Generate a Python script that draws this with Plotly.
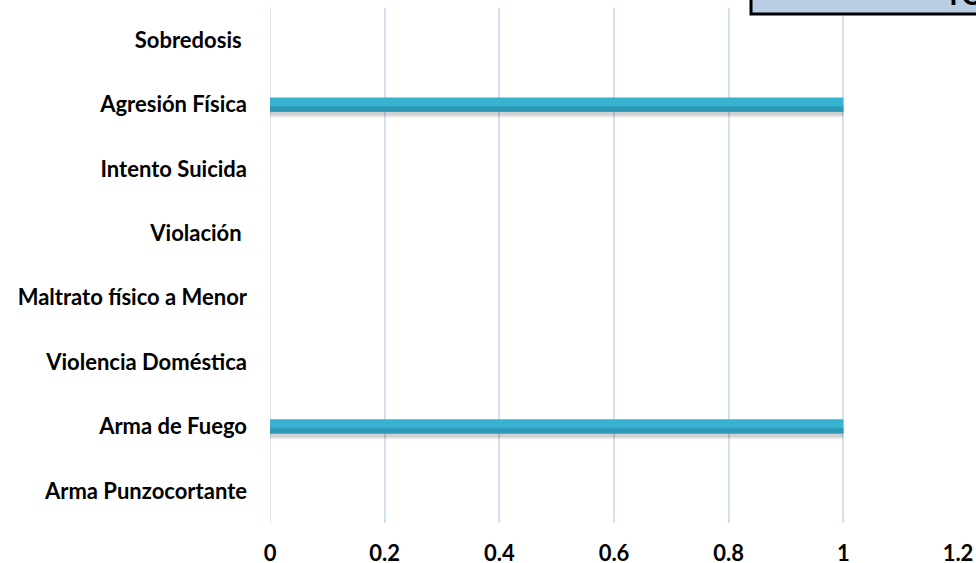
import plotly.graph_objects as go

categories = ["Arma Punzocortante", "Arma de Fuego", "Violencia Doméstica",
              "Maltrato físico a Menor", "Violación ", "Intento Suicida",
              "Agresión Física", "Sobredosis "]
values = [0, 1, 0, 0, 0, 0, 1, 0]
x_ticks = [0, 0.2, 0.4, 0.6, 0.8, 1, 1.2]
x_tick_labels = ["0", "0.2", "0.4", "0.6", "0.8", "1", "1.2"]
box_title = "TOTAL"

W, H = 976, 563
ml, mr, mt, mb = 270, 18, 8, 40
pw, ph = W - ml - mr, H - mt - mb

fig = go.Figure()
# soft shadow under bars (two layers for a blurred look)
for off, wd, col in [(-0.2, 0.2, "rgba(0,0,0,0.07)"), (-0.17, 0.2, "rgba(0,0,0,0.12)")]:
    fig.add_trace(go.Bar(
        y=categories, x=values, orientation="h", width=wd, offset=off,
        marker=dict(color=col, line=dict(width=0)),
        hoverinfo="skip", showlegend=False,
    ))
# main bar with a darker lower band to suggest the gradient
fig.add_trace(go.Bar(
    y=categories, x=values, orientation="h", width=0.22, offset=-0.11,
    marker=dict(color="#38b2d1", line=dict(width=0)),
    showlegend=False,
))
fig.add_trace(go.Bar(
    y=categories, x=values, orientation="h", width=0.08, offset=-0.11,
    marker=dict(color="#2d98b6", line=dict(width=0)),
    hoverinfo="skip", showlegend=False,
))
tickfont = dict(size=22, family="Lato, sans-serif", color="black", weight="bold")
fig.update_layout(
    width=W, height=H,
    margin=dict(l=ml, r=mr, t=mt, b=mb),
    plot_bgcolor="white", paper_bgcolor="white",
    barmode="overlay",
    font=dict(family="Lato, Open Sans, sans-serif", size=22, color="black"),
    xaxis=dict(range=[0, 1.2], tickvals=x_ticks, ticktext=x_tick_labels,
               showgrid=True, gridcolor="#d3e0f0", gridwidth=1.5,
               zeroline=False, showline=False, ticks="", automargin=False,
               ticklabelstandoff=15, tickfont=tickfont),
    yaxis=dict(categoryorder="array", categoryarray=categories,
               range=[-0.5, 7.5], showgrid=False, zeroline=False,
               showline=False, ticks="", ticklabelstandoff=22, automargin=False,
               tickfont=tickfont),
)
# zero line as light gridline
fig.add_shape(type="line", xref="x", yref="paper", x0=0, x1=0, y0=0, y1=1,
              line=dict(color="#d3e0f0", width=1.5), layer="below")

# title box at top right, partially outside the view
x0 = (751 - ml) / pw
fig.add_shape(type="rect", xref="paper", yref="paper",
              x0=x0, x1=x0 + 0.5, y0=1 - (14 - mt) / ph,
              y1=1.2, fillcolor="#b9cde5", line=dict(color="black", width=3),
              layer="above")
fig.add_annotation(xref="paper", yref="paper",
                   x=(944 - ml) / pw, y=1 - (12 - mt) / ph,
                   xanchor="left", yanchor="bottom", text="<b>" + box_title + "</b>",
                   showarrow=False, borderpad=0,
                   font=dict(size=28, color="black", family="Lato, sans-serif"))

fig.write_html("out.html", config={"displayModeBar": False},
               post_script="document.body.style.margin='0';")
